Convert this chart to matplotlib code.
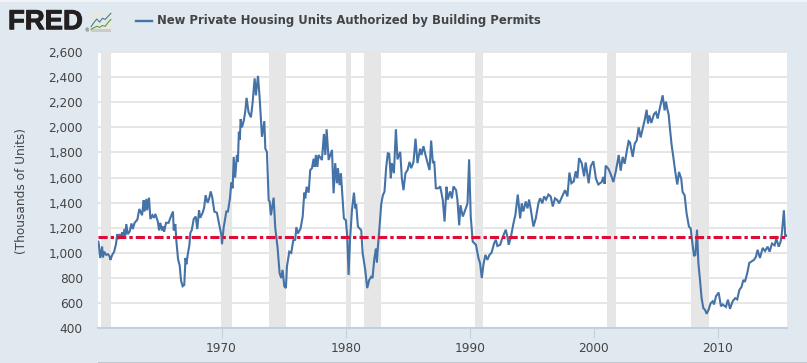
import matplotlib
matplotlib.use("Agg")
import matplotlib.pyplot as plt
import matplotlib.patheffects as pe
from matplotlib.patches import Rectangle, FancyBboxPatch

W, H = 807, 363
BG = "#E1E9F0"
LINE = "#4572A7"
TXT = "#444444"

TITLE = "New Private Housing Units Authorized by Building Permits"
YLABEL = "(Thousands of Units)"
Y_TICKS = [400, 600, 800, 1000, 1200, 1400, 1600, 1800, 2000, 2200, 2400, 2600]
X_TICKS = [1970, 1980, 1990, 2000, 2010]
MEAN_LEVEL = 1123
RECESSIONS = [(1960.3, 1961.07), (1969.96, 1970.82), (1973.83, 1975.17), (1980.0, 1980.47),
              (1981.5, 1982.83), (1990.4, 1991.08), (2001.04, 2001.75), (2007.8, 2009.28)]

t60 = [1960.08, 1960.13, 1960.22, 1960.3, 1960.38, 1960.45, 1960.55, 1960.7, 1960.85, 1961.0, 1961.05, 1961.2,
       1961.35, 1961.5, 1961.6, 1961.7, 1961.8, 1961.9, 1962.0, 1962.1, 1962.2, 1962.25, 1962.33, 1962.45, 1962.6,
       1962.75, 1962.85, 1963.0, 1963.22, 1963.38, 1963.6, 1963.73, 1963.8, 1963.95, 1964.0, 1964.16, 1964.27,
       1964.43, 1964.55, 1964.67, 1964.8, 1964.87, 1964.97, 1965.07, 1965.2, 1965.3, 1965.38, 1965.53, 1965.74,
       1965.88, 1966.09, 1966.15, 1966.28, 1966.36, 1966.5, 1966.63, 1966.74, 1966.87, 1967.0, 1967.1, 1967.17,
       1967.3, 1967.41, 1967.49, 1967.6, 1967.76, 1967.92, 1968.05, 1968.19, 1968.29, 1968.48, 1968.6, 1968.72,
       1968.88, 1969.0, 1969.13, 1969.26, 1969.42, 1969.63, 1969.77]
v60 = [1090, 1060, 960, 1000, 1050, 965, 1010, 985, 990, 970, 945, 985,
       1010, 1070, 1150, 1110, 1150, 1120, 1165, 1135, 1190, 1140, 1230, 1150, 1170,
       1235, 1190, 1240, 1265, 1350, 1300, 1420, 1330, 1430, 1340, 1440, 1270,
       1300, 1280, 1310, 1270, 1250, 1180, 1240, 1180, 1210, 1170, 1240, 1240,
       1280, 1330, 1180, 1230, 1100, 950, 900, 780, 735, 745, 960, 910,
       1000, 1060, 1160, 1180, 1270, 1290, 1190, 1340, 1280, 1320, 1360, 1460,
       1400, 1430, 1490, 1440, 1330, 1320, 1250]

t70 = [1969.98, 1970.04, 1970.17, 1970.39, 1970.52, 1970.68, 1970.79, 1970.9, 1970.98, 1971.1, 1971.24, 1971.32,
       1971.4, 1971.48, 1971.54, 1971.65, 1971.8, 1971.92, 1972.02, 1972.18, 1972.37, 1972.5, 1972.67, 1972.77,
       1972.94, 1973.07, 1973.26, 1973.45, 1973.53, 1973.66, 1973.8, 1973.88, 1973.98, 1974.2, 1974.33, 1974.52,
       1974.68, 1974.81, 1974.92, 1975.06, 1975.19, 1975.27, 1975.46, 1975.62, 1975.78, 1975.94, 1976.03, 1976.16,
       1976.37, 1976.54, 1976.67, 1976.75, 1976.86, 1977.02, 1977.15, 1977.29, 1977.42, 1977.5, 1977.61, 1977.72,
       1977.82, 1978.09, 1978.25, 1978.36, 1978.47, 1978.63, 1978.9, 1979.03, 1979.16, 1979.3, 1979.38, 1979.51,
       1979.62, 1979.75, 1979.86]
v70 = [1145, 1070, 1200, 1330, 1330, 1435, 1560, 1515, 1765, 1600, 1780, 1725,
       1965, 1900, 2065, 2000, 2055, 2130, 2235, 2120, 2080, 2190, 2390, 2255,
       2410, 2240, 1925, 2050, 1830, 1805, 1420, 1410, 1300, 1440, 1200, 1040,
       840, 800, 865, 735, 720, 890, 1010, 1000, 1100, 1105, 1205, 1155,
       1195, 1290, 1480, 1435, 1527, 1480, 1660, 1675, 1750, 1685, 1780, 1685,
       1780, 1740, 1947, 1780, 1985, 1740, 1820, 1475, 1715, 1555, 1675, 1540,
       1635, 1435, 1275]

t80 = [1980.02, 1980.13, 1980.24, 1980.35, 1980.51, 1980.67, 1980.78, 1980.85, 1980.99, 1981.26, 1981.37, 1981.58,
       1981.74, 1981.9, 1982.06, 1982.17, 1982.3, 1982.44, 1982.52, 1982.6, 1982.73, 1982.87, 1983.0, 1983.13,
       1983.27, 1983.4, 1983.51, 1983.64, 1983.72, 1983.89, 1984.05, 1984.18, 1984.4, 1984.53, 1984.66, 1984.82,
       1984.99, 1985.15, 1985.28, 1985.47, 1985.63, 1985.79, 1986.0, 1986.11, 1986.27, 1986.41, 1986.54, 1986.76,
       1986.89, 1987.03, 1987.14, 1987.27, 1987.48, 1987.62, 1987.83, 1987.97, 1988.13, 1988.23, 1988.42, 1988.56,
       1988.69, 1988.9, 1989.01, 1989.15, 1989.25, 1989.44, 1989.63, 1989.82, 1989.95]
v80 = [1260, 1130, 825, 1100, 1340, 1480, 1355, 1390, 1210, 1180, 1000, 865,
       720, 785, 810, 800, 943, 1035, 925, 1050, 1205, 1390, 1460, 1487,
       1685, 1793, 1790, 1595, 1715, 1635, 1985, 1745, 1805, 1595, 1500, 1635,
       1660, 1725, 1675, 1725, 1910, 1715, 1830, 1780, 1850, 1790, 1740, 1660,
       1895, 1715, 1730, 1515, 1515, 1530, 1420, 1250, 1527, 1425, 1490, 1435,
       1530, 1500, 1420, 1220, 1380, 1290, 1340, 1395, 1745]

t90 = [1990.08, 1990.24, 1990.5, 1990.7, 1990.83, 1990.97, 1991.1, 1991.26, 1991.42, 1991.59, 1991.75, 1991.96,
       1992.1, 1992.23, 1992.45, 1992.63, 1992.9, 1993.03, 1993.14, 1993.3, 1993.52, 1993.68, 1993.87, 1994.06,
       1994.19, 1994.32, 1994.51, 1994.65, 1994.78, 1994.92, 1995.13, 1995.32, 1995.53, 1995.67, 1995.85, 1995.99,
       1996.15, 1996.34, 1996.52, 1996.69, 1996.87, 1997.06, 1997.2, 1997.49, 1997.68, 1997.87, 1998.03, 1998.19,
       1998.38, 1998.54, 1998.67, 1998.81, 1999.02, 1999.21, 1999.34, 1999.58, 1999.75, 1999.96]
v90 = [1290, 1090, 1065, 960, 920, 800, 905, 985, 945, 985, 1000, 1075,
       1105, 1055, 1065, 1120, 1185, 1130, 1065, 1120, 1235, 1305, 1465, 1275,
       1395, 1330, 1410, 1355, 1425, 1345, 1210, 1275, 1395, 1435, 1395, 1450,
       1425, 1465, 1450, 1370, 1435, 1420, 1395, 1460, 1500, 1450, 1640, 1555,
       1570, 1650, 1595, 1755, 1715, 1610, 1720, 1555, 1690, 1730]

t00 = [2000.17, 2000.36, 2000.63, 2000.76, 2000.87, 2000.95, 2001.17, 2001.35, 2001.57, 2001.78, 2002.0, 2002.16,
       2002.32, 2002.48, 2002.64, 2002.8, 2002.91, 2003.13, 2003.29, 2003.45, 2003.61, 2003.77, 2003.93, 2004.12,
       2004.25, 2004.36, 2004.47, 2004.63, 2004.84, 2005.0, 2005.14, 2005.33, 2005.54, 2005.7, 2005.81, 2005.94,
       2006.02, 2006.13, 2006.27, 2006.4, 2006.56, 2006.72, 2006.86, 2007.04, 2007.15, 2007.31, 2007.47, 2007.66,
       2007.8, 2007.94, 2008.07, 2008.18, 2008.31, 2008.42, 2008.55, 2008.68, 2008.82, 2008.95, 2009.09, 2009.25,
       2009.41, 2009.57, 2009.68, 2009.84]
v00 = [1590, 1545, 1565, 1605, 1550, 1695, 1670, 1630, 1565, 1655, 1780, 1655,
       1765, 1710, 1805, 1890, 1880, 1765, 1870, 1895, 2000, 1920, 1990, 2070,
       2140, 2030, 2095, 2035, 2105, 2120, 2070, 2160, 2255, 2135, 2205, 2135,
       2105, 1990, 1855, 1765, 1645, 1545, 1645, 1590, 1485, 1460, 1315, 1210,
       1195, 1075, 975, 985, 1185, 920, 785, 640, 560, 548, 515, 550,
       600, 615, 590, 655]

t10 = [2010.05, 2010.24, 2010.37, 2010.64, 2010.8, 2010.97, 2011.18, 2011.39, 2011.55, 2011.72, 2011.9, 2012.04,
       2012.17, 2012.36, 2012.52, 2012.71, 2012.9, 2013.06, 2013.19, 2013.38, 2013.6, 2013.79, 2014.0, 2014.16,
       2014.35, 2014.56, 2014.7, 2014.89, 2015.05, 2015.15, 2015.31, 2015.42, 2015.55]
v10 = [685, 575, 590, 570, 628, 555, 615, 640, 630, 705, 730, 785,
       770, 840, 920, 932, 945, 970, 1025, 960, 1040, 1015, 1050, 1010,
       1075, 1060, 1115, 1050, 1090, 1160, 1340, 1130, 1140]

years = t60 + t70 + t80 + t90 + t00 + t10
values = v60 + v70 + v80 + v90 + v00 + v10

LOGO_X = [0, 1, 2, 3, 4, 5, 6, 7]
LOGO_BLUE = [0.28, 0.5, 0.68, 0.52, 0.72, 0.66, 0.82, 0.98]
LOGO_GREEN = [0.14, 0.22, 0.3, 0.24, 0.34, 0.3, 0.5, 0.66]

fig = plt.figure(figsize=(W / 100, H / 100), dpi=100, facecolor=BG)
plt.rcParams["font.family"] = "DejaVu Sans"

ax = fig.add_axes([98 / W, (H - 328.3) / H, (787 - 98) / W, (328.3 - 52) / H])
ax.set_xlim(1960.05, 2015.56)
ax.set_ylim(400, 2600)
ax.set_facecolor("white")
for s in ("top", "right", "left"):
    ax.spines[s].set_visible(False)
ax.spines["bottom"].set_color("#C0D0E0")
ax.spines["bottom"].set_linewidth(1.5)

for a, b in RECESSIONS:
    ax.axvspan(a, b, color="#E6E6E6", lw=0, zorder=1)
ax.set_yticks(Y_TICKS)
ax.set_yticklabels([f"{v:,}" for v in Y_TICKS], fontsize=8.7, color=TXT)
ax.set_xticks(X_TICKS)
ax.set_xticklabels([str(v) for v in X_TICKS], fontsize=8.7, color=TXT)
ax.tick_params(axis="y", length=0, pad=11)
ax.tick_params(axis="x", length=7, width=0.8, color="#C0D0E0", pad=3)
ax.grid(axis="y", color="#E6E6E6", lw=1.4, zorder=2)
ax.set_axisbelow(True)
for line in ax.get_ygridlines():
    line.set_clip_on(False)

ax.plot(years, values, color=LINE, lw=1.5, zorder=3, solid_joinstyle="miter")
ax.axhline(MEAN_LEVEL, color="#DC0E38", lw=2.2, zorder=4, clip_on=False,
           linestyle=(0, (3.0, 1.0, 1.1, 1.0)))

fig.text(22 / W, 1 - 191 / H, YLABEL, rotation=90, fontsize=8.7, color=TXT, ha="center", va="center")

# Header: legend key, title, logo
fig.add_artist(plt.Line2D([136 / W, 152 / W], [1 - 20.5 / H] * 2, color=LINE, lw=1.7))
fig.text(157 / W, 1 - 20.5 / H, TITLE, fontsize=8.4, fontweight="bold", color=TXT, ha="left", va="center")
fred = fig.text(8 / W, 1 - 22.2 / H, "FRED", fontsize=19.8, fontweight="bold", color="#231F20",
                family="Liberation Sans", ha="left", va="center")
fred.set_path_effects([pe.withStroke(linewidth=0.7, foreground="#231F20")])
fig.text(84 / W, 1 - 31 / H, "®", fontsize=3.5, color="#231F20", ha="left", va="center")

logo = fig.add_axes([90 / W, 1 - 32 / H, 22 / W, 20 / H])
logo.set_xlim(-0.4, 7.4)
logo.set_ylim(0, 1.05)
logo.axis("off")
logo.add_patch(FancyBboxPatch((-0.4, 0), 7.8, 1.05, boxstyle="round,pad=0,rounding_size=0.5",
                              mutation_aspect=0.13, fc="#E6E8E4", ec="none"))
logo.add_patch(Rectangle((-0.2, 0), 7.4, 0.14, fc="#CBCCC6", ec="none"))
logo.plot(LOGO_X, LOGO_BLUE, color="#3E7FA0", lw=0.8)
logo.plot(LOGO_X, LOGO_GREEN, color="#5D9A3F", lw=0.8)

# Thin edge strips at the top and bottom of the image
fig.add_artist(Rectangle((0, 1 - 1.5 / H), 1, 1.5 / H, transform=fig.transFigure, fc="#F0F4F7", ec="none"))
fig.add_artist(Rectangle((98 / W, 0), 1 - 98 / W, 1 / H, transform=fig.transFigure, fc="#BFC7CF", ec="none"))

fig.savefig("out.png", dpi=100, facecolor=BG)
